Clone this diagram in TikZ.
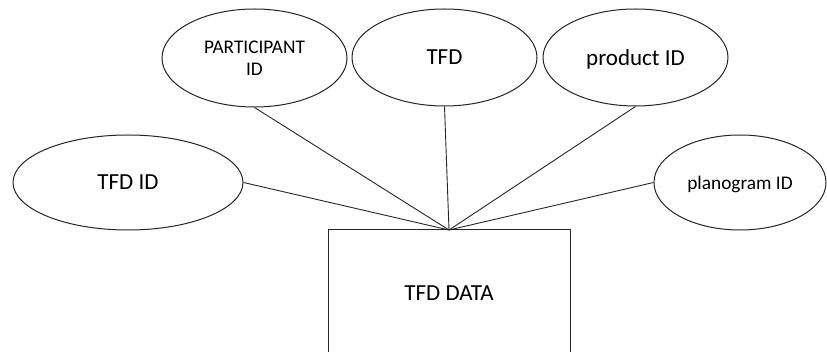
\documentclass[tikz,border=0pt]{standalone}
\usepackage{fontspec}
\setmainfont{Carlito}
\usetikzlibrary{shapes.geometric}
\begin{document}
\begin{tikzpicture}[x=1pt,y=-1pt,
  attr/.style={ellipse,draw=black!85,line width=1pt,inner sep=0pt,align=center,text depth=0pt,font=\fontsize{23}{23}\selectfont},
  small/.style={font=\fontsize{19.3}{22}\selectfont},
  entity/.style={rectangle,draw=black!85,line width=1pt,inner sep=0pt,font=\fontsize{23}{23}\selectfont},
  link/.style={draw=black!85,line width=0.9pt}]
\useasboundingbox[fill=white] (0,0) rectangle (827,352);
\node[entity,minimum width=242pt,minimum height=126pt] (data) at (449,293) {TFD DATA};
\coordinate (hub) at (449,230);
\node[attr,small,minimum width=185pt,minimum height=98pt] (part) at (254.5,58) {PARTICIPANT\\ID};
\node[attr,minimum width=185pt,minimum height=97pt] (tfd) at (444.5,57.5) {TFD};
\node[attr,minimum width=185pt,minimum height=97pt] (prod) at (635.5,57.5) {product ID};
\node[attr,minimum width=230pt,minimum height=95pt] (tfdid) at (128,182.5) {TFD ID};
\node[attr,small,minimum width=172pt,minimum height=95pt] (plano) at (740,182.5) {planogram ID};
\draw[link] (part.south) -- (hub);
\draw[link] (tfd.south) -- (hub);
\draw[link] (prod.south) -- (hub);
\draw[link] (tfdid.east) -- (hub);
\draw[link] (plano.west) -- (hub);
\end{tikzpicture}
\end{document}
